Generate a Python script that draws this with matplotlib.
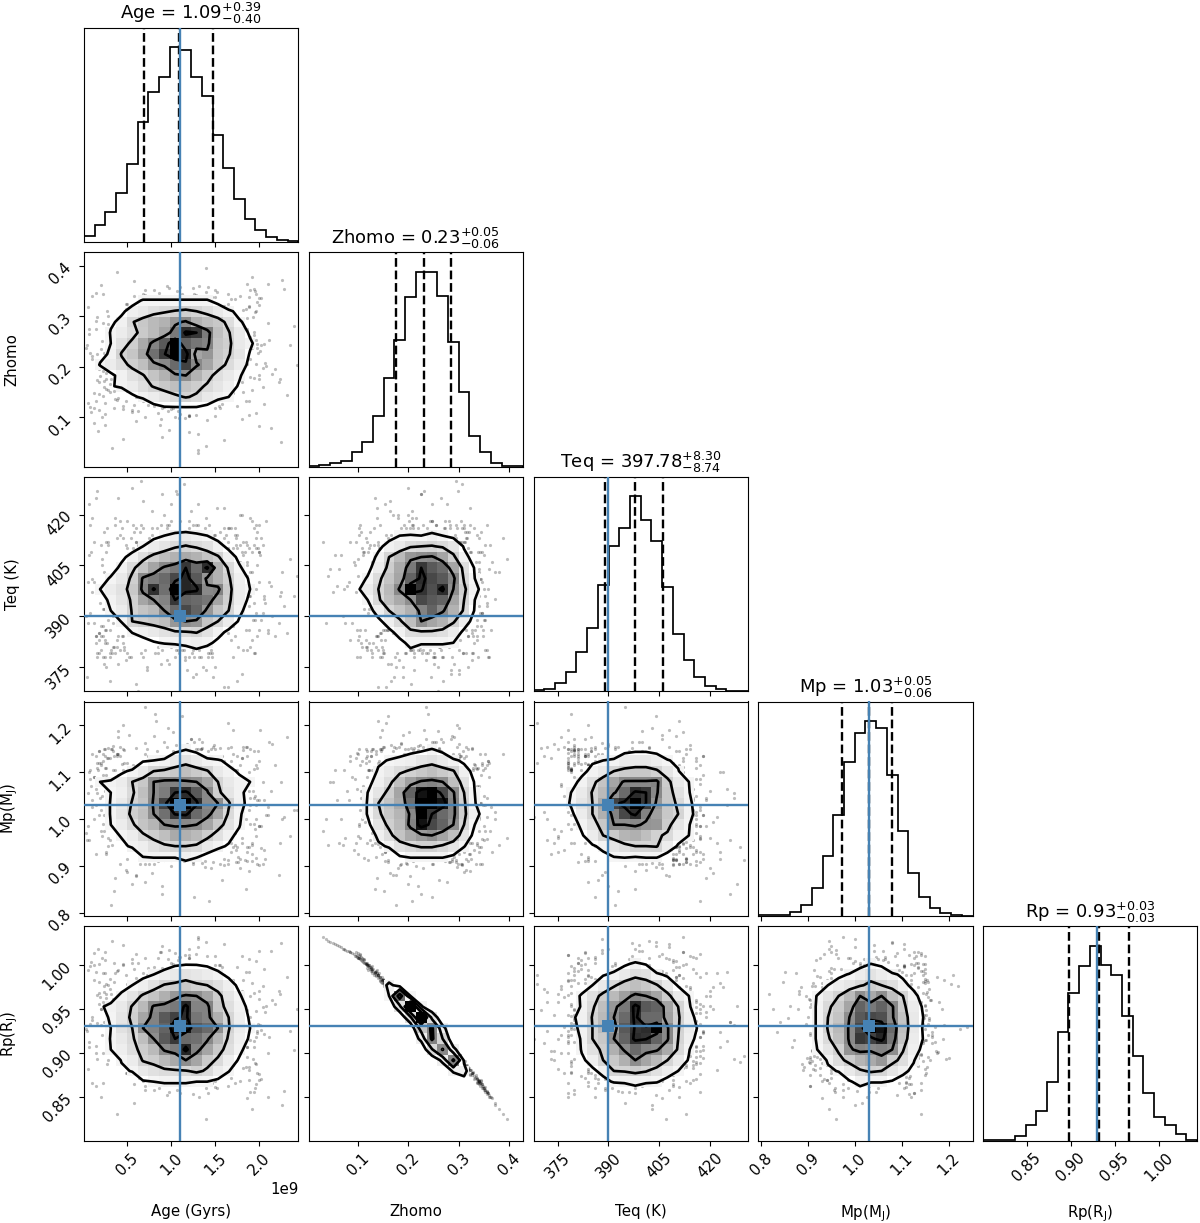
import matplotlib
matplotlib.use("Agg")
import matplotlib.pyplot as plt
from matplotlib.colors import PowerNorm
import numpy as np

plt.rcParams["font.size"] = 10.8

names = ["Age", "Zhomo", "Teq", "Mp", "Rp"]
axis_labels = ["Age (Gyrs)", "Zhomo", "Teq (K)", r"Mp(M$_{\mathrm{J}}$)", r"Rp(R$_{\mathrm{J}}$)"]
titles = [r"Age = $1.09_{-0.40}^{+0.39}$", r"Zhomo = $0.23_{-0.06}^{+0.05}$",
          r"Teq = $397.78_{-8.74}^{+8.30}$", r"Mp = $1.03_{-0.06}^{+0.05}$", r"Rp = $0.93_{-0.03}^{+0.03}$"]
ranges = [(0.008e9, 2.445e9), (0.0024, 0.427), (367.9, 431.2), (0.794, 1.251), (0.80, 1.0435)]
ticks = [[0.5e9, 1.0e9, 1.5e9, 2.0e9], [0.1, 0.2, 0.3, 0.4], [375, 390, 405, 420],
         [0.8, 0.9, 1.0, 1.1, 1.2], [0.85, 0.90, 0.95, 1.00]]
truths = [1.10e9, None, 390, 1.03, 0.93]
quantiles = [[0.69e9, 1.09e9, 1.48e9], [0.176, 0.231, 0.284], [389.04, 397.78, 406.08],
             [0.973, 1.03, 1.08], [0.898, 0.932, 0.966]]

# 1d histogram heights, 20 bins each
hist_age = [17, 52, 90, 147, 232, 359, 447, 492, 582, 575, 494, 436, 320, 220, 129, 69, 35, 15, 7, 3]
hist_zhomo = [2, 6, 12, 17, 45, 74, 150, 264, 378, 508, 582, 582, 509, 372, 224, 90, 44, 10, 2, 1]
hist_teq = [3, 5, 25, 57, 117, 189, 316, 433, 489, 583, 513, 450, 311, 171, 92, 42, 15, 6, 1, 1]
hist_mp = [1, 1, 3, 12, 32, 84, 180, 302, 461, 549, 584, 564, 423, 253, 127, 57, 24, 7, 2, 0]
hist_rp = [1, 1, 3, 15, 46, 89, 175, 327, 443, 524, 584, 527, 496, 373, 253, 142, 72, 47, 19, 3]
hists = [hist_age, hist_zhomo, hist_teq, hist_mp, hist_rp]

# 2d histograms: (row from top, first column, cell values), peak about 100
age_zhomo = [
    (4, 4, [8, 13, 13, 13, 13, 13, 13, 13, 8]),
    (5, 3, [10, 16, 20, 25, 28, 31, 33, 30, 26, 20, 14, 9]),
    (6, 2, [10, 15, 29, 36, 42, 45, 55, 60, 45, 40, 36, 26, 13, 9]),
    (7, 2, [13, 18, 25, 35, 42, 50, 65, 88, 85, 64, 40, 31, 20, 10]),
    (8, 1, [7, 12, 24, 33, 48, 62, 75, 100, 72, 66, 62, 38, 33, 20, 14, 6]),
    (9, 1, [8, 14, 31, 37, 52, 68, 84, 100, 92, 50, 55, 37, 31, 22, 11]),
    (10, 1, [13, 18, 26, 33, 40, 55, 60, 70, 82, 60, 50, 36, 27, 18, 9]),
    (11, 2, [10, 15, 24, 29, 38, 45, 56, 58, 45, 35, 25, 20, 13, 7]),
    (12, 2, [11, 14, 18, 25, 31, 36, 40, 38, 34, 28, 22, 16, 11]),
    (13, 4, [10, 14, 18, 22, 27, 31, 28, 20, 16, 12, 7]),
    (14, 6, [9, 11, 11, 11, 11, 9]),
]
age_teq = [
    (5, 5, [7, 9, 12, 16, 18, 15, 12, 9, 6]),
    (6, 4, [8, 12, 18, 22, 28, 31, 28, 24, 15, 10]),
    (7, 3, [10, 15, 26, 34, 40, 45, 48, 45, 38, 32, 16, 10]),
    (8, 2, [8, 14, 27, 38, 50, 60, 65, 85, 70, 88, 45, 28, 13, 8]),
    (9, 1, [8, 13, 20, 33, 60, 65, 70, 80, 90, 75, 55, 45, 32, 16, 11]),
    (10, 1, [12, 18, 24, 36, 62, 87, 68, 100, 90, 88, 60, 62, 35, 17, 12]),
    (11, 1, [8, 14, 22, 32, 50, 58, 62, 85, 72, 70, 66, 50, 33, 17, 10]),
    (12, 2, [12, 18, 31, 38, 42, 58, 70, 80, 72, 55, 38, 30, 14, 8]),
    (13, 3, [13, 30, 33, 36, 40, 55, 58, 56, 38, 30, 18, 11]),
    (14, 4, [13, 16, 20, 24, 28, 29, 31, 24, 15, 10]),
    (15, 5, [8, 11, 13, 14, 14, 16, 14, 10]),
    (16, 9, [7, 9, 7]),
]
zhomo_teq = [
    (5, 6, [6, 9, 12, 13, 12, 16, 12, 9]),
    (6, 6, [10, 15, 20, 28, 30, 31, 28, 22, 11, 6]),
    (7, 5, [7, 14, 30, 42, 55, 58, 60, 50, 33, 15, 8]),
    (8, 5, [9, 18, 34, 48, 65, 85, 75, 70, 50, 25, 11]),
    (9, 4, [7, 13, 27, 38, 50, 72, 88, 80, 75, 62, 28, 12]),
    (10, 4, [10, 18, 30, 42, 60, 100, 86, 78, 88, 58, 33, 15, 7]),
    (11, 4, [7, 12, 28, 40, 48, 58, 80, 75, 72, 50, 30, 12]),
    (12, 5, [8, 16, 30, 38, 46, 62, 72, 60, 45, 28, 11]),
    (13, 6, [10, 16, 28, 40, 58, 50, 45, 32, 17, 8]),
    (14, 7, [10, 15, 27, 28, 28, 25, 18, 10]),
    (15, 8, [10, 14, 14, 14, 14, 12, 7]),
    (16, 9, [10]),
]
age_mp = [
    (4, 8, [9, 12, 9]),
    (5, 5, [11, 12, 14, 20, 24, 20, 15, 13, 10]),
    (6, 3, [10, 14, 20, 30, 32, 36, 40, 35, 31, 20, 14, 11]),
    (7, 1, [12, 14, 18, 30, 36, 58, 62, 62, 60, 58, 50, 30, 20, 14, 12]),
    (8, 1, [8, 12, 16, 28, 40, 58, 64, 85, 88, 75, 60, 33, 22, 14, 9]),
    (9, 2, [13, 20, 31, 38, 60, 82, 100, 100, 88, 60, 58, 32, 15, 9]),
    (10, 2, [13, 22, 33, 40, 58, 68, 86, 88, 70, 62, 50, 28, 13, 8]),
    (11, 2, [12, 18, 28, 38, 44, 58, 60, 60, 58, 50, 36, 24, 13]),
    (12, 2, [8, 13, 18, 28, 34, 40, 48, 46, 42, 34, 24, 15, 9]),
    (13, 3, [9, 14, 17, 24, 28, 30, 30, 28, 20, 14, 11]),
    (14, 5, [12, 13, 13, 13, 16, 13, 8, 6]),
    (15, 9, [5]),
]
zhomo_mp = [
    (4, 8, [6, 9, 10, 13, 9]),
    (5, 6, [9, 13, 15, 17, 22, 24, 20, 14, 10]),
    (6, 6, [14, 20, 27, 32, 36, 40, 35, 31, 16, 9]),
    (7, 5, [9, 16, 26, 40, 52, 60, 62, 58, 40, 24, 11]),
    (8, 5, [12, 22, 34, 50, 72, 95, 100, 80, 60, 30, 12]),
    (9, 5, [13, 30, 38, 48, 68, 100, 100, 95, 62, 32, 13]),
    (10, 5, [13, 28, 36, 44, 60, 100, 85, 70, 62, 33, 16, 7]),
    (11, 5, [9, 22, 33, 42, 62, 95, 80, 72, 58, 30, 12]),
    (12, 6, [16, 26, 38, 48, 54, 58, 50, 40, 22, 8]),
    (13, 6, [9, 14, 24, 28, 32, 32, 28, 22, 13]),
    (14, 8, [11, 13, 13, 13, 13, 10]),
]
teq_mp = [
    (4, 8, [9, 10, 10, 9]),
    (5, 5, [11, 12, 14, 18, 20, 20, 17, 13, 9]),
    (6, 4, [10, 14, 20, 30, 34, 36, 36, 32, 22, 13]),
    (7, 3, [9, 14, 26, 38, 50, 60, 60, 60, 62, 34, 20, 12]),
    (8, 3, [12, 19, 31, 42, 56, 70, 88, 85, 60, 36, 24, 13]),
    (9, 2, [7, 13, 22, 30, 48, 82, 88, 100, 85, 55, 36, 28, 14, 7]),
    (10, 3, [10, 18, 30, 46, 62, 80, 88, 62, 52, 36, 30, 14, 9]),
    (11, 3, [7, 14, 24, 36, 58, 58, 60, 56, 55, 34, 22, 13]),
    (12, 4, [11, 18, 30, 35, 44, 46, 40, 32, 28, 16, 12]),
    (13, 5, [11, 14, 22, 26, 30, 30, 31, 18, 11]),
    (14, 6, [10, 12, 13, 12, 13, 13, 8]),
]
age_rp = [
    (3, 7, [7, 10, 11, 11, 10, 8]),
    (4, 5, [9, 12, 16, 20, 23, 21, 18, 14, 10]),
    (5, 3, [8, 12, 17, 24, 31, 33, 36, 32, 30, 24, 16, 10]),
    (6, 2, [8, 14, 22, 32, 38, 46, 55, 60, 58, 50, 34, 22, 13, 7]),
    (7, 1, [11, 14, 20, 31, 42, 60, 62, 65, 90, 62, 62, 36, 25, 15, 10]),
    (8, 1, [9, 13, 22, 33, 50, 62, 75, 82, 88, 66, 62, 46, 30, 17, 11]),
    (9, 2, [12, 24, 30, 58, 62, 72, 95, 95, 75, 70, 58, 31, 18, 12]),
    (10, 2, [13, 20, 28, 40, 58, 75, 85, 70, 68, 60, 44, 28, 16, 11]),
    (11, 2, [12, 17, 26, 34, 42, 60, 64, 90, 62, 50, 35, 25, 14, 8]),
    (12, 3, [13, 18, 31, 34, 42, 48, 58, 50, 35, 28, 17, 11]),
    (13, 3, [9, 13, 20, 24, 27, 28, 29, 33, 28, 18, 13]),
    (14, 5, [11, 12, 14, 14, 14, 12, 12, 10]),
]
zhomo_rp = [
    (5, 7, [16, 5]),
    (6, 7, [12, 70, 12]),
    (7, 8, [24, 100, 14]),
    (8, 9, [26, 100, 24]),
    (9, 10, [38, 62, 16]),
    (10, 10, [16, 62, 30]),
    (11, 11, [28, 60, 16]),
    (12, 12, [16, 62, 10]),
    (13, 13, [14, 16]),
    (14, 14, [8]),
]
teq_rp = [
    (3, 7, [6, 10, 14, 11]),
    (4, 6, [11, 14, 20, 26, 24, 14, 10]),
    (5, 4, [8, 12, 20, 28, 36, 40, 36, 31, 20, 11]),
    (6, 3, [8, 13, 24, 34, 42, 52, 62, 58, 50, 34, 20, 12]),
    (7, 4, [14, 28, 40, 55, 65, 90, 75, 72, 50, 30, 14]),
    (8, 3, [10, 15, 31, 42, 58, 70, 88, 70, 70, 52, 32, 16, 8]),
    (9, 3, [9, 14, 30, 42, 52, 75, 86, 88, 100, 60, 31, 18, 10]),
    (10, 4, [14, 30, 36, 58, 72, 88, 86, 72, 60, 30, 16, 8]),
    (11, 4, [13, 24, 33, 46, 60, 70, 62, 60, 48, 28, 13]),
    (12, 4, [10, 16, 30, 36, 46, 58, 50, 42, 30, 20, 11]),
    (13, 5, [10, 15, 30, 31, 34, 31, 24, 18, 12]),
    (14, 6, [9, 13, 14, 15, 14, 13, 8]),
    (15, 9, [7]),
]
mp_rp = [
    (3, 9, [8, 12, 10]),
    (4, 7, [9, 13, 18, 23, 18, 14, 10]),
    (5, 6, [12, 18, 22, 28, 34, 30, 25, 15, 9]),
    (6, 5, [13, 22, 30, 42, 58, 48, 58, 40, 30, 15, 7]),
    (7, 5, [14, 28, 35, 50, 72, 65, 72, 60, 34, 18, 10]),
    (8, 5, [14, 30, 38, 58, 75, 80, 78, 60, 38, 20, 11]),
    (9, 5, [14, 31, 42, 60, 80, 100, 95, 70, 40, 20, 10]),
    (10, 5, [14, 28, 40, 60, 85, 82, 90, 66, 38, 18, 11]),
    (11, 5, [12, 22, 32, 56, 62, 60, 62, 58, 31, 16, 9]),
    (12, 6, [14, 26, 34, 44, 48, 55, 34, 26, 13]),
    (13, 6, [9, 13, 20, 28, 32, 30, 22, 15, 9]),
    (14, 8, [11, 15, 13, 13, 11, 7]),
    (15, 9, [8]),
]
grids = {(1, 0): age_zhomo, (2, 0): age_teq, (2, 1): zhomo_teq, (3, 0): age_mp, (3, 1): zhomo_mp,
         (3, 2): teq_mp, (4, 0): age_rp, (4, 1): zhomo_rp, (4, 2): teq_rp, (4, 3): mp_rp}
levels = [12, 30, 58, 85]

age_s = [
    62, 141, 98, 175, 45, 120, 87, 155, 33, 109, 131, 74,
    150, 80, 112, 58, 168, 95, 128, 38, 140, 70, 186, 103,
    19, 7, 25, 12, 28, 3, 23, 15, 10, 26, 5, 21,
    190, 204, 186, 218, 196, 235, 188, 210, 199, 224, 193, 243,
    88, 125, 50, 160, 104, 72, 145, 30, 116, 180, 66, 136,
    130, 68, 172, 92, 115, 42, 152, 84, 107, 190, 56, 122,
    75, 158, 100, 35, 138, 118, 60, 178, 90, 147, 48, 126,
    112, 52, 165, 83, 135, 28, 96, 149, 70, 123, 182, 40,
    196, 12, 205, 90, 18, 214, 130, 8, 188, 60, 225, 150,
    22, 200, 110, 15, 192, 75, 228, 10, 140, 195, 65, 20,
    10, 24, 6, 18, 27, 4, 14, 22, 8, 26, 16, 20,
    198, 215, 188, 232, 194, 207, 186, 222, 201, 240, 192, 211,
    95, 132, 60, 170, 118, 82, 148, 40, 105, 165, 72, 126,
    138, 78, 110, 55, 160, 100, 36, 125, 90, 178, 66, 143,
    85, 150, 48, 115, 175, 68, 128, 98, 30, 140, 108, 62,
    70, 135, 102, 168, 45, 122, 155, 80, 34, 112, 185, 92,
    5, 196, 21, 210, 12, 188, 25, 226, 9, 202, 17, 194,
    120, 60, 160, 95, 40, 140, 78, 180, 105, 50, 130, 88,
    100, 165, 70, 135, 50, 115, 185, 85, 145, 32, 125, 60,
    140, 55, 180, 80, 120, 25, 160, 100, 200, 45, 130, 70,
    30, 188, 45, 172, 22, 195, 55, 165, 38, 182, 28, 198,
    170, 40, 190, 25, 160, 50, 200, 35, 178, 18, 166, 48,
    109, 95, 130, 82, 120, 70, 140, 100, 90, 150, 76, 118,
    20, 196, 34, 180, 52, 168, 14, 204, 42, 175, 26, 192,
    115, 85, 135, 60, 145, 92, 125, 72, 155, 104, 65, 138,
    185, 30, 162, 44, 198, 24, 176, 56, 206, 36, 170, 16,
    100, 126, 78, 142, 88, 152, 68, 118, 94, 132, 58, 148,
    48, 164, 32, 186, 20, 174, 40, 194, 54, 160, 27, 200,
    122, 74, 146, 96, 64, 134, 106, 84, 156, 112, 68, 128,
    172, 26, 194, 46, 184, 16, 162, 38, 208, 52, 178, 33,
    90, 144, 110, 63, 128, 80, 154, 98, 72, 136, 116, 58,
    24, 190, 50, 168, 36, 202, 18, 176, 44, 186, 30, 164,
    138, 102, 66, 124, 86, 150, 114, 76, 142, 94, 60, 130,
    182, 42, 200, 28, 166, 54, 192, 22, 174, 46, 196, 34,
    108, 78, 134, 92, 158, 70, 120, 100, 62, 146, 84, 126,
]
zhomo_s = [
    112, 95, 74, 122, 58, 103, 85, 118, 40, 99, 67, 125,
    338, 352, 345, 371, 335, 360, 342, 388, 349, 336, 365, 340,
    182, 265, 205, 148, 301, 238, 172, 290, 222, 156, 318, 251,
    215, 160, 276, 195, 310, 244, 133, 287, 228, 176, 299, 203,
    250, 190, 325, 140, 268, 212, 300, 166, 235, 285, 150, 258,
    209, 164, 272, 199, 306, 247, 137, 283, 224, 180, 295, 207,
    186, 261, 201, 152, 297, 234, 176, 286, 218, 160, 314, 247,
    250, 190, 325, 140, 268, 212, 300, 166, 235, 285, 150, 258,
    108, 88, 126, 62, 115, 79, 30, 120, 104, 92, 51, 119,
    344, 337, 358, 347, 379, 339, 355, 341, 395, 350, 334, 362,
    215, 160, 276, 195, 310, 244, 133, 287, 228, 176, 299, 203,
    246, 186, 321, 144, 264, 208, 296, 170, 231, 281, 154, 254,
    182, 265, 205, 148, 301, 238, 172, 290, 222, 156, 318, 251,
    209, 164, 272, 199, 306, 247, 137, 283, 224, 180, 295, 207,
    250, 190, 325, 140, 268, 212, 300, 166, 235, 285, 150, 258,
    186, 261, 201, 152, 297, 234, 176, 286, 218, 160, 314, 247,
    128, 345, 100, 364, 118, 339, 84, 372, 110, 336, 72, 355,
    246, 186, 321, 144, 264, 208, 296, 170, 231, 281, 154, 254,
    215, 160, 276, 195, 310, 244, 133, 287, 228, 176, 299, 203,
    44, 114, 96, 123, 70, 106, 55, 127, 82, 116, 36, 101,
    150, 318, 122, 335, 142, 308, 110, 345, 135, 312, 155, 328,
    305, 138, 352, 128, 314, 152, 322, 118, 340, 146, 306, 132,
    128, 330, 146, 310, 104, 342, 154, 304, 118, 352, 136, 316,
    235, 205, 262, 190, 248, 218, 275, 198, 228, 255, 210, 242,
    340, 108, 304, 140, 326, 120, 356, 150, 312, 100, 334, 158,
    220, 252, 185, 268, 238, 200, 280, 214, 246, 192, 260, 226,
    116, 324, 156, 308, 96, 348, 132, 302, 148, 360, 124, 318,
    258, 196, 242, 272, 206, 230, 288, 178, 250, 216, 265, 184,
    300, 144, 338, 112, 320, 130, 350, 158, 306, 126, 344, 104,
    240, 188, 270, 210, 256, 174, 292, 224, 202, 262, 232, 194,
    134, 314, 106, 332, 148, 304, 122, 356, 140, 322, 98, 340,
    228, 260, 196, 280, 212, 244, 170, 290, 236, 206, 268, 182,
    330, 118, 310, 152, 346, 102, 318, 142, 358, 128, 302, 160,
    218, 248, 176, 284, 204, 266, 238, 192, 294, 222, 254, 186,
    112, 336, 144, 316, 126, 352, 102, 306, 154, 328, 136, 344,
]
teq_s = [
    392, 405, 388, 410, 399, 384, 412, 396, 402, 386, 408, 394,
    401, 389, 409, 395, 383, 404, 391, 413, 398, 387, 406, 393,
    394, 408, 386, 400, 412, 390, 403, 382, 397, 409, 388, 405,
    403, 391, 411, 384, 398, 407, 393, 385, 410, 396, 389, 402,
    376, 372, 379, 369, 378, 374, 380, 371, 377, 373, 379, 375,
    417, 424, 416, 420, 429, 418, 422, 416, 426, 419, 417, 421,
    399, 387, 410, 393, 404, 384, 407, 396, 390, 413, 401, 386,
    392, 406, 385, 411, 397, 389, 403, 414, 395, 383, 408, 400,
    410, 388, 395, 404, 383, 399, 412, 391, 386, 406, 397, 402,
    387, 409, 398, 384, 403, 413, 393, 401, 407, 389, 396, 411,
    419, 376, 423, 379, 416, 372, 425, 378, 417, 375, 427, 380,
    405, 390, 398, 385, 411, 394, 402, 388, 408, 396, 383, 400,
    377, 380, 370, 378, 374, 379, 372, 376, 380, 369, 375, 378,
    416, 421, 418, 428, 416, 423, 419, 417, 426, 420, 430, 417,
    379, 375, 377, 380, 371, 378, 373, 376, 379, 374, 380, 368,
    388, 402, 412, 393, 384, 406, 397, 410, 390, 404, 386, 399,
    400, 391, 407, 386, 412, 396, 383, 403, 409, 389, 398, 394,
    418, 416, 422, 417, 425, 419, 416, 420, 427, 418, 423, 417,
    395, 410, 384, 403, 389, 413, 398, 386, 406, 392, 401, 408,
    404, 386, 397, 411, 390, 382, 408, 394, 400, 413, 388, 402,
    386, 410, 382, 414, 392, 379, 408, 400, 381, 412, 395, 384,
    410, 384, 396, 378, 413, 388, 417, 381, 406, 385, 402, 411,
    379, 416, 383, 412, 378, 409, 386, 418, 380, 411, 384, 415,
    387, 413, 381, 409, 378, 416, 384, 411, 380, 414, 386, 418,
    403, 381, 394, 412, 386, 409, 380, 399, 415, 383, 406, 392,
    412, 378, 402, 384, 415, 392, 381, 410, 396, 417, 387, 379,
    381, 409, 414, 379, 412, 386, 416, 383, 410, 378, 415, 384,
    393, 416, 380, 405, 384, 411, 398, 379, 413, 388, 382, 409,
    388, 410, 378, 396, 415, 382, 408, 386, 412, 380, 401, 417,
    384, 412, 416, 380, 409, 378, 414, 383, 418, 386, 411, 379,
    407, 379, 415, 386, 381, 411, 392, 417, 384, 409, 378, 404,
    415, 381, 410, 388, 379, 413, 385, 404, 416, 380, 397, 412,
    382, 400, 417, 379, 391, 414, 384, 410, 378, 406, 412, 386,
    380, 414, 386, 411, 416, 378, 409, 384, 413, 381, 417, 388,
    409, 384, 378, 413, 402, 380, 416, 387, 411, 379, 396, 415,
]
mp_s = [
    1010, 1085, 960, 1105, 1040, 990, 1125, 1020, 945, 1065, 1000, 1135,
    1060, 975, 1120, 1015, 950, 1090, 1035, 1140, 985, 1070, 930, 1005,
    1045, 955, 1110, 1000, 1130, 970, 1075, 925, 1025, 1095, 985, 1050,
    990, 1080, 940, 1115, 1030, 965, 1100, 1010, 1145, 950, 1060, 1020,
    1070, 1000, 950, 1120, 1035, 980, 1090, 1015, 935, 1130, 1055, 965,
    1025, 1100, 970, 1060, 940, 1135, 1005, 1085, 955, 1045, 1115, 995,
    905, 870, 912, 846, 898, 915, 880, 915, 858, 908, 892, 834,
    1155, 1180, 1152, 1210, 1165, 1151, 1195, 1158, 1240, 1172, 1153, 1188,
    1000, 1090, 1040, 950, 1120, 1060, 975, 1105, 1020, 935, 1080, 1010,
    1095, 985, 1125, 1030, 945, 1070, 1005, 1140, 960, 1050, 1110, 975,
    1040, 975, 1100, 1010, 1130, 955, 1065, 990, 1085, 930, 1055, 1020,
    905, 1160, 890, 1175, 1145, 915, 1155, 880, 1190, 1020, 910, 1165,
    1155, 1170, 1152, 1190, 1160, 1225, 1153, 1175, 1158, 1205, 1150, 1165,
    910, 885, 915, 862, 902, 915, 874, 908, 840, 895, 912, 826,
    1100, 960, 1050, 990, 1135, 1015, 925, 1075, 1040, 950, 1120, 1005,
    1162, 1152, 1185, 1155, 1200, 1170, 1151, 1178, 1157, 1220, 1153, 1165,
    1055, 1115, 965, 1025, 1090, 940, 1135, 1000, 1070, 985, 1105, 1045,
    1010, 1110, 950, 1075, 1030, 985, 1125, 960, 1045, 1095, 930, 1020,
    900, 914, 866, 907, 888, 915, 852, 911, 895, 816, 905, 878,
    1080, 995, 1130, 1020, 945, 1060, 1105, 970, 1040, 1150, 1000, 925,
    1010, 1060, 1105, 945, 1125, 980, 1050, 905, 1140, 1015, 960, 1110,
    940, 1095, 1030, 1150, 915, 1120, 985, 1135, 1000, 1145, 958, 1075,
    1105, 935, 1150, 960, 1115, 905, 1040, 1135, 950, 1110, 920, 1065,
    1120, 918, 1145, 950, 1105, 930, 1135, 905, 1155, 940, 1110, 925,
    930, 1125, 1105, 948, 1150, 912, 1115, 955, 1020, 1140, 905, 1108,
    1000, 1130, 955, 1118, 1040, 1150, 908, 1075, 935, 985, 1140, 1110,
    1130, 915, 1050, 1145, 950, 1105, 1000, 1135, 925, 1120, 955, 1060,
    948, 1010, 1150, 910, 1115, 935, 1140, 1108, 960, 1125, 1020, 902,
    1140, 940, 1110, 1065, 925, 1150, 955, 1118, 905, 1145, 1035, 960,
    1105, 925, 990, 1148, 912, 1120, 958, 1135, 1010, 942, 1115, 1150,
    950, 1135, 1045, 1115, 1150, 905, 1125, 958, 1108, 925, 1142, 975,
    1010, 1150, 915, 1125, 1105, 938, 1145, 920, 1050, 1135, 955, 1112,
    1118, 1145, 930, 1108, 958, 1150, 910, 1030, 1125, 945, 1100, 1135,
    1148, 905, 1125, 942, 1015, 1112, 950, 1140, 908, 1120, 965, 1105,
    918, 1108, 1150, 952, 1135, 1140, 985, 1118, 930, 1105, 1145, 940,
]
rp_s = [
    1002, 1010, 1017, 997, 1022, 1007, 1014, 1000, 1027, 1009, 1020, 996,
    868, 858, 864, 843, 871, 852, 866, 830, 860, 870, 848, 867,
    963, 912, 948, 983, 892, 927, 969, 899, 937, 978, 881, 920,
    941, 976, 906, 955, 887, 924, 992, 900, 933, 967, 893, 950,
    920, 958, 877, 988, 911, 943, 893, 972, 929, 902, 982, 916,
    945, 974, 908, 953, 889, 923, 990, 902, 935, 964, 896, 949,
    960, 914, 950, 980, 894, 929, 967, 901, 939, 976, 884, 923,
    920, 958, 877, 988, 911, 943, 893, 972, 929, 902, 982, 916,
    1004, 1013, 995, 1021, 1001, 1016, 1031, 998, 1006, 1012, 1024, 999,
    865, 869, 854, 862, 836, 868, 856, 866, 825, 860, 872, 850,
    941, 976, 906, 955, 887, 924, 992, 900, 933, 967, 893, 950,
    922, 960, 880, 986, 913, 946, 895, 970, 931, 903, 979, 918,
    963, 912, 948, 983, 892, 927, 969, 899, 937, 978, 881, 920,
    945, 974, 908, 953, 889, 923, 990, 902, 935, 964, 896, 949,
    920, 958, 877, 988, 911, 943, 893, 972, 929, 902, 982, 916,
    960, 914, 950, 980, 894, 929, 967, 901, 939, 976, 884, 923,
    994, 864, 1008, 849, 999, 869, 1014, 841, 1003, 870, 1018, 855,
    922, 960, 880, 986, 913, 946, 895, 970, 931, 903, 979, 918,
    941, 976, 906, 955, 887, 924, 992, 900, 933, 967, 893, 950,
    1026, 1002, 1010, 997, 1018, 1005, 1023, 995, 1015, 1001, 1029, 1008,
    984, 884, 1000, 866, 990, 888, 1006, 862, 993, 882, 977, 877,
    886, 994, 855, 990, 886, 978, 876, 1002, 868, 980, 892, 988,
    998, 870, 984, 890, 1011, 862, 976, 894, 996, 861, 987, 886,
    931, 947, 911, 960, 924, 936, 908, 952, 932, 915, 946, 925,
    868, 1008, 893, 985, 874, 994, 853, 979, 890, 1013, 874, 974,
    937, 918, 963, 908, 924, 954, 903, 939, 921, 955, 917, 934,
    1002, 880, 974, 891, 1014, 860, 990, 897, 986, 849, 995, 879,
    916, 957, 927, 906, 949, 930, 898, 968, 922, 938, 911, 961,
    897, 982, 866, 1006, 882, 995, 857, 975, 888, 993, 868, 1012,
    928, 962, 906, 943, 919, 966, 896, 933, 953, 913, 930, 953,
    990, 885, 1009, 871, 979, 895, 999, 855, 988, 875, 1011, 864,
    935, 914, 959, 902, 942, 926, 968, 895, 926, 948, 912, 965,
    873, 1001, 888, 976, 860, 1010, 881, 986, 854, 993, 897, 975,
    939, 920, 970, 904, 952, 913, 925, 958, 891, 936, 918, 961,
    1005, 867, 981, 884, 997, 858, 1007, 890, 975, 878, 988, 869,
]
samples = [np.array(age_s) * 1e7, np.array(zhomo_s) / 1000, np.array(teq_s, dtype=float),
           np.array(mp_s) / 1000, np.array(rp_s) / 1000]

BLUE = "#4682b4"
col_left = [84, 308.7, 533.5, 758.3, 982.7]
row_top = [27.8, 252.3, 476.7, 701.5, 926.3]
box = 214.3


def make_grid(rows):
    H = np.zeros((20, 20))
    for r, c0, vals in rows:
        H[19 - r, c0:c0 + len(vals)] = vals
    return H


def draw_truth(ax, row, col):
    if truths[col] is not None:
        ax.axvline(truths[col], color=BLUE, lw=1.7, zorder=6)
    if row != col and truths[row] is not None:
        ax.axhline(truths[row], color=BLUE, lw=1.7, zorder=6)
    if row != col and truths[col] is not None and truths[row] is not None:
        ax.plot(truths[col], truths[row], "s", color=BLUE, ms=8, mew=0, zorder=7)


fig = plt.figure(figsize=(12, 12.23), dpi=100)

for row in range(5):
    for col in range(row + 1):
        ax = fig.add_axes([col_left[col] / 1200, 1 - (row_top[row] + box) / 1223, box / 1200, box / 1223])
        xedges = np.linspace(ranges[col][0], ranges[col][1], 21)

        if row == col:
            ax.stairs(hists[col], xedges, color="k", lw=1.25)
            for q in quantiles[col]:
                ax.axvline(q, color="k", ls="--", lw=1.7)
            ax.set_ylim(0, 1.1 * max(hists[col]))
            ax.set_yticks([])
            ax.set_title(titles[col], fontsize=13)
        else:
            yedges = np.linspace(ranges[row][0], ranges[row][1], 21)
            xc = 0.5 * (xedges[1:] + xedges[:-1])
            yc = 0.5 * (yedges[1:] + yedges[:-1])
            H = make_grid(grids[(row, col)])
            dots, = ax.plot(samples[col], samples[row], "o", color="k", ms=2.3, mew=0, alpha=0.26, zorder=1)
            dots.set_snap(False)
            ax.contourf(xc, yc, H, [levels[0], 1000], colors="white", zorder=2)
            ax.pcolormesh(xedges, yedges, np.ma.masked_less(H, levels[0]), cmap="gray_r",
                          norm=PowerNorm(1.5, vmin=0, vmax=100), zorder=3)
            ax.contour(xc, yc, H, levels, colors="k", linewidths=1.9, zorder=4)
            ax.set_ylim(ranges[row])
            ax.set_yticks(ticks[row])

        ax.set_xlim(ranges[col])
        ax.set_xticks(ticks[col])
        draw_truth(ax, row, col)

        if row == 4:
            ax.set_xlabel(axis_labels[col])
            ax.xaxis.set_label_coords(0.5, -0.295)
            for lab in ax.get_xticklabels():
                lab.set_rotation(45)
        else:
            ax.set_xticklabels([])
        if col == 0 and row > 0:
            ax.set_ylabel(axis_labels[row])
            ax.yaxis.set_label_coords(-0.30, 0.5)
            for lab in ax.get_yticklabels():
                lab.set_rotation(45)
        elif row != col:
            ax.set_yticklabels([])

fig.savefig("out.png", dpi=100)
